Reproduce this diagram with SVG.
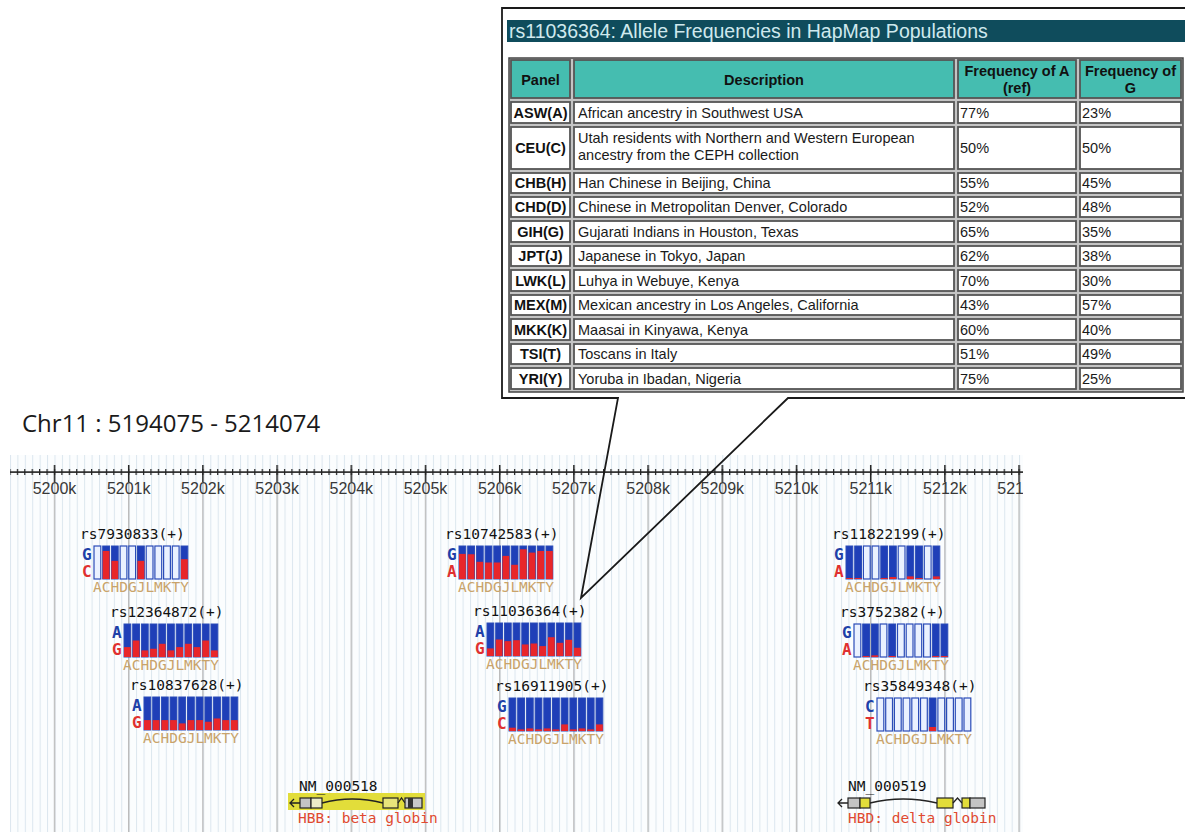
<svg xmlns="http://www.w3.org/2000/svg" width="1185" height="832" viewBox="0 0 1185 832">
<style>
.sans{font-family:"Liberation Sans",Arial,sans-serif}
.tick{font-family:"Liberation Sans",Arial,sans-serif;font-size:16px;fill:#383838;text-anchor:middle}
.cell{fill:#fff;stroke:#555;stroke-width:1.8}
.hcell{fill:#45bdb0;stroke:#555;stroke-width:1.8}
.td{font-family:"Liberation Sans",Arial,sans-serif;font-size:14.5px;fill:#1a1a1a}
.tp{font-family:"Liberation Sans",Arial,sans-serif;font-size:14.5px;font-weight:bold;fill:#111;text-anchor:middle}
.b{fill:#1f3fb8;stroke:#2a4cb8;stroke-width:1}
.o{fill:#eaf1ff;stroke:#2a4cb8;stroke-width:1.2}
.r{fill:#e8262a}
.lab{font-family:"DejaVu Sans Mono","Liberation Mono",monospace;font-size:14.5px;fill:#111}
.al1{font-family:"DejaVu Sans Mono","Liberation Mono",monospace;font-size:16px;font-weight:bold;fill:#2040a8}
.al2{font-family:"DejaVu Sans Mono","Liberation Mono",monospace;font-size:16px;font-weight:bold;fill:#e03030}
.pop{font-family:"DejaVu Sans Mono","Liberation Mono",monospace;font-size:14.5px;fill:#c9a36a}
.ex{stroke:#222;stroke-width:1.2}
.gl{fill:none;stroke:#222;stroke-width:1.3}
.gname{font-family:"DejaVu Sans Mono","Liberation Mono",monospace;font-size:14.5px;fill:#e04a30}
</style>
<defs>
<pattern id="minor" x="9.98" y="0" width="7.42" height="10" patternUnits="userSpaceOnUse"><rect width="1" height="10" fill="#dbe6ee"/></pattern>
<pattern id="mtick" x="9.38" y="0" width="7.42" height="10" patternUnits="userSpaceOnUse"><rect width="1.2" height="10" fill="#222"/></pattern>
<pattern id="major" x="53.8" y="0" width="74.2" height="10" patternUnits="userSpaceOnUse"><rect width="1.4" height="10" fill="#bcbcbc"/></pattern>
<pattern id="majtick" x="53.75" y="0" width="74.2" height="20" patternUnits="userSpaceOnUse"><rect width="1.5" height="20" fill="#222"/></pattern>
<clipPath id="trk"><rect x="0" y="440" width="1023" height="392"/></clipPath>
</defs>
<rect width="1185" height="832" fill="#fff"/>

<text x="22" y="432" style="font-family:'Open Sans','Noto Sans',sans-serif;font-size:24px;fill:#1a1a1a">Chr11 : 5194075 - 5214074</text>

<g id="track" clip-path="url(#trk)">
<rect x="10" y="455" width="1015" height="377" fill="#fbfdfe"/>
<rect x="10" y="455" width="1015" height="377" fill="url(#minor)"/>
<rect x="10" y="482" width="1015" height="350" fill="url(#major)"/>
<rect x="10" y="471.3" width="1013" height="1.6" fill="#222"/>
<rect x="10" y="469" width="1013" height="6" fill="url(#mtick)"/>
<rect x="10" y="465" width="1013" height="17" fill="url(#majtick)"/>
<text x="54.5" y="494" class="tick">5200k</text>
<text x="128.7" y="494" class="tick">5201k</text>
<text x="202.9" y="494" class="tick">5202k</text>
<text x="277.1" y="494" class="tick">5203k</text>
<text x="351.3" y="494" class="tick">5204k</text>
<text x="425.5" y="494" class="tick">5205k</text>
<text x="499.7" y="494" class="tick">5206k</text>
<text x="573.9" y="494" class="tick">5207k</text>
<text x="648.1" y="494" class="tick">5208k</text>
<text x="722.3" y="494" class="tick">5209k</text>
<text x="796.5" y="494" class="tick">5210k</text>
<text x="870.7" y="494" class="tick">5211k</text>
<text x="944.9" y="494" class="tick">5212k</text>
<text x="1019.1" y="494" class="tick">5213k</text>
</g>

<g id="rs7930833" transform="translate(80,539)">
<text class="lab" x="0" y="0">rs7930833(+)</text>
<text class="al1" x="2" y="21">G</text><text class="al2" x="2" y="38">C</text>
<rect class="o" x="14" y="7" width="6.8" height="33"/>
<rect class="b" x="22.7" y="7" width="6.8" height="33"/><rect class="r" x="22.7" y="11.95" width="6.8" height="28.05"/>
<rect class="b" x="31.4" y="7" width="6.8" height="33"/><rect class="r" x="31.4" y="21.85" width="6.8" height="18.15"/>
<rect class="o" x="40.1" y="7" width="6.8" height="33"/>
<rect class="o" x="48.8" y="7" width="6.8" height="33"/>
<rect class="b" x="57.5" y="7" width="6.8" height="33"/><rect class="r" x="57.5" y="21.85" width="6.8" height="18.15"/>
<rect class="o" x="66.2" y="7" width="6.8" height="33"/>
<rect class="o" x="74.9" y="7" width="6.8" height="33"/>
<rect class="o" x="83.6" y="7" width="6.8" height="33"/>
<rect class="o" x="92.3" y="7" width="6.8" height="33"/>
<rect class="b" x="101" y="7" width="6.8" height="33"/><rect class="r" x="101" y="20.2" width="6.8" height="19.8"/>
<text class="pop" x="13" y="53">ACHDGJLMKTY</text>
</g>

<g id="rs12364872" transform="translate(110,617)">
<text class="lab" x="0" y="0">rs12364872(+)</text>
<text class="al1" x="2" y="21">A</text><text class="al2" x="2" y="38">G</text>
<rect class="b" x="14" y="7" width="6.8" height="33"/><rect class="r" x="14" y="30.1" width="6.8" height="9.9"/>
<rect class="b" x="22.7" y="7" width="6.8" height="33"/><rect class="r" x="22.7" y="23.5" width="6.8" height="16.5"/>
<rect class="b" x="31.4" y="7" width="6.8" height="33"/><rect class="r" x="31.4" y="33.4" width="6.8" height="6.6"/>
<rect class="b" x="40.1" y="7" width="6.8" height="33"/><rect class="r" x="40.1" y="31.75" width="6.8" height="8.25"/>
<rect class="b" x="48.8" y="7" width="6.8" height="33"/><rect class="r" x="48.8" y="26.8" width="6.8" height="13.2"/>
<rect class="b" x="57.5" y="7" width="6.8" height="33"/><rect class="r" x="57.5" y="33.4" width="6.8" height="6.6"/>
<rect class="b" x="66.2" y="7" width="6.8" height="33"/><rect class="r" x="66.2" y="30.1" width="6.8" height="9.9"/>
<rect class="b" x="74.9" y="7" width="6.8" height="33"/><rect class="r" x="74.9" y="26.8" width="6.8" height="13.2"/>
<rect class="b" x="83.6" y="7" width="6.8" height="33"/><rect class="r" x="83.6" y="30.1" width="6.8" height="9.9"/>
<rect class="b" x="92.3" y="7" width="6.8" height="33"/><rect class="r" x="92.3" y="23.5" width="6.8" height="16.5"/>
<rect class="b" x="101" y="7" width="6.8" height="33"/><rect class="r" x="101" y="33.4" width="6.8" height="6.6"/>
<text class="pop" x="13" y="53">ACHDGJLMKTY</text>
</g>

<g id="rs10837628" transform="translate(130,690)">
<text class="lab" x="0" y="0">rs10837628(+)</text>
<text class="al1" x="2" y="21">A</text><text class="al2" x="2" y="38">G</text>
<rect class="b" x="14" y="7" width="6.8" height="33"/><rect class="r" x="14" y="30.1" width="6.8" height="9.9"/>
<rect class="b" x="22.7" y="7" width="6.8" height="33"/><rect class="r" x="22.7" y="30.1" width="6.8" height="9.9"/>
<rect class="b" x="31.4" y="7" width="6.8" height="33"/><rect class="r" x="31.4" y="30.1" width="6.8" height="9.9"/>
<rect class="b" x="40.1" y="7" width="6.8" height="33"/><rect class="r" x="40.1" y="30.1" width="6.8" height="9.9"/>
<rect class="b" x="48.8" y="7" width="6.8" height="33"/><rect class="r" x="48.8" y="33.4" width="6.8" height="6.6"/>
<rect class="b" x="57.5" y="7" width="6.8" height="33"/><rect class="r" x="57.5" y="30.1" width="6.8" height="9.9"/>
<rect class="b" x="66.2" y="7" width="6.8" height="33"/><rect class="r" x="66.2" y="30.1" width="6.8" height="9.9"/>
<rect class="b" x="74.9" y="7" width="6.8" height="33"/><rect class="r" x="74.9" y="31.75" width="6.8" height="8.25"/>
<rect class="b" x="83.6" y="7" width="6.8" height="33"/><rect class="r" x="83.6" y="28.45" width="6.8" height="11.55"/>
<rect class="b" x="92.3" y="7" width="6.8" height="33"/><rect class="r" x="92.3" y="30.1" width="6.8" height="9.9"/>
<rect class="b" x="101" y="7" width="6.8" height="33"/><rect class="r" x="101" y="30.1" width="6.8" height="9.9"/>
<text class="pop" x="13" y="53">ACHDGJLMKTY</text>
</g>

<g id="rs10742583" transform="translate(445,539)">
<text class="lab" x="0" y="0">rs10742583(+)</text>
<text class="al1" x="2" y="21">G</text><text class="al2" x="2" y="38">A</text>
<rect class="b" x="14" y="7" width="6.8" height="33"/><rect class="r" x="14" y="14.9" width="6.8" height="25.1"/>
<rect class="b" x="22.7" y="7" width="6.8" height="33"/><rect class="r" x="22.7" y="15.25" width="6.8" height="24.75"/>
<rect class="b" x="31.4" y="7" width="6.8" height="33"/><rect class="r" x="31.4" y="22.8" width="6.8" height="17.2"/>
<rect class="b" x="40.1" y="7" width="6.8" height="33"/><rect class="r" x="40.1" y="23.5" width="6.8" height="16.5"/>
<rect class="b" x="48.8" y="7" width="6.8" height="33"/><rect class="r" x="48.8" y="23.5" width="6.8" height="16.5"/>
<rect class="b" x="57.5" y="7" width="6.8" height="33"/><rect class="r" x="57.5" y="16.9" width="6.8" height="23.1"/>
<rect class="b" x="66.2" y="7" width="6.8" height="33"/><rect class="r" x="66.2" y="25.8" width="6.8" height="14.2"/>
<rect class="b" x="74.9" y="7" width="6.8" height="33"/><rect class="r" x="74.9" y="10.3" width="6.8" height="29.7"/>
<rect class="b" x="83.6" y="7" width="6.8" height="33"/><rect class="r" x="83.6" y="13.6" width="6.8" height="26.4"/>
<rect class="b" x="92.3" y="7" width="6.8" height="33"/><rect class="r" x="92.3" y="11.95" width="6.8" height="28.05"/>
<rect class="b" x="101" y="7" width="6.8" height="33"/><rect class="r" x="101" y="11.95" width="6.8" height="28.05"/>
<text class="pop" x="13" y="53">ACHDGJLMKTY</text>
</g>

<g id="rs11036364" transform="translate(473,616)">
<text class="lab" x="0" y="0">rs11036364(+)</text>
<text class="al1" x="2" y="21">A</text><text class="al2" x="2" y="38">G</text>
<rect class="b" x="14" y="7" width="6.8" height="33"/><rect class="r" x="14" y="32.4" width="6.8" height="7.6"/>
<rect class="b" x="22.7" y="7" width="6.8" height="33"/><rect class="r" x="22.7" y="23.5" width="6.8" height="16.5"/>
<rect class="b" x="31.4" y="7" width="6.8" height="33"/><rect class="r" x="31.4" y="25.15" width="6.8" height="14.85"/>
<rect class="b" x="40.1" y="7" width="6.8" height="33"/><rect class="r" x="40.1" y="24.2" width="6.8" height="15.8"/>
<rect class="b" x="48.8" y="7" width="6.8" height="33"/><rect class="r" x="48.8" y="28.45" width="6.8" height="11.55"/>
<rect class="b" x="57.5" y="7" width="6.8" height="33"/><rect class="r" x="57.5" y="27.5" width="6.8" height="12.5"/>
<rect class="b" x="66.2" y="7" width="6.8" height="33"/><rect class="r" x="66.2" y="30.1" width="6.8" height="9.9"/>
<rect class="b" x="74.9" y="7" width="6.8" height="33"/><rect class="r" x="74.9" y="21.2" width="6.8" height="18.8"/>
<rect class="b" x="83.6" y="7" width="6.8" height="33"/><rect class="r" x="83.6" y="26.8" width="6.8" height="13.2"/>
<rect class="b" x="92.3" y="7" width="6.8" height="33"/><rect class="r" x="92.3" y="23.8" width="6.8" height="16.2"/>
<rect class="b" x="101" y="7" width="6.8" height="33"/><rect class="r" x="101" y="31.75" width="6.8" height="8.25"/>
<text class="pop" x="13" y="53">ACHDGJLMKTY</text>
</g>

<g id="rs16911905" transform="translate(495,691)">
<text class="lab" x="0" y="0">rs16911905(+)</text>
<text class="al1" x="2" y="21">G</text><text class="al2" x="2" y="38">C</text>
<rect class="b" x="14" y="7" width="6.8" height="33"/><rect class="r" x="14" y="36.7" width="6.8" height="3.3"/>
<rect class="b" x="22.7" y="7" width="6.8" height="33"/><rect class="r" x="22.7" y="38.35" width="6.8" height="1.65"/>
<rect class="b" x="31.4" y="7" width="6.8" height="33"/><rect class="r" x="31.4" y="37.4" width="6.8" height="2.6"/>
<rect class="b" x="40.1" y="7" width="6.8" height="33"/><rect class="r" x="40.1" y="38.35" width="6.8" height="1.65"/>
<rect class="b" x="48.8" y="7" width="6.8" height="33"/><rect class="r" x="48.8" y="37.4" width="6.8" height="2.6"/>
<rect class="b" x="57.5" y="7" width="6.8" height="33"/><rect class="r" x="57.5" y="38.35" width="6.8" height="1.65"/>
<rect class="b" x="66.2" y="7" width="6.8" height="33"/><rect class="r" x="66.2" y="33.4" width="6.8" height="6.6"/>
<rect class="b" x="74.9" y="7" width="6.8" height="33"/><rect class="r" x="74.9" y="38.35" width="6.8" height="1.65"/>
<rect class="b" x="83.6" y="7" width="6.8" height="33"/><rect class="r" x="83.6" y="37.4" width="6.8" height="2.6"/>
<rect class="b" x="92.3" y="7" width="6.8" height="33"/><rect class="r" x="92.3" y="38.35" width="6.8" height="1.65"/>
<rect class="b" x="101" y="7" width="6.8" height="33"/><rect class="r" x="101" y="33.4" width="6.8" height="6.6"/>
<text class="pop" x="13" y="53">ACHDGJLMKTY</text>
</g>

<g id="rs11822199" transform="translate(832,539)">
<text class="lab" x="0" y="0">rs11822199(+)</text>
<text class="al1" x="2" y="21">G</text><text class="al2" x="2" y="38">A</text>
<rect class="b" x="14" y="7" width="6.8" height="33"/><rect class="r" x="14" y="39" width="6.8" height="1"/>
<rect class="b" x="22.7" y="7" width="6.8" height="33"/><rect class="r" x="22.7" y="39" width="6.8" height="1"/>
<rect class="o" x="31.4" y="7" width="6.8" height="33"/>
<rect class="o" x="40.1" y="7" width="6.8" height="33"/>
<rect class="b" x="48.8" y="7" width="6.8" height="33"/><rect class="r" x="48.8" y="39" width="6.8" height="1"/>
<rect class="b" x="57.5" y="7" width="6.8" height="33"/><rect class="r" x="57.5" y="38" width="6.8" height="2"/>
<rect class="o" x="66.2" y="7" width="6.8" height="33"/>
<rect class="b" x="74.9" y="7" width="6.8" height="33"/><rect class="r" x="74.9" y="37.4" width="6.8" height="2.6"/>
<rect class="b" x="83.6" y="7" width="6.8" height="33"/><rect class="r" x="83.6" y="39" width="6.8" height="1"/>
<rect class="o" x="92.3" y="7" width="6.8" height="33"/>
<rect class="b" x="101" y="7" width="6.8" height="33"/><rect class="r" x="101" y="37.4" width="6.8" height="2.6"/>
<text class="pop" x="13" y="53">ACHDGJLMKTY</text>
</g>

<g id="rs3752382" transform="translate(840,617)">
<text class="lab" x="0" y="0">rs3752382(+)</text>
<text class="al1" x="2" y="21">G</text><text class="al2" x="2" y="38">A</text>
<rect class="o" x="14" y="7" width="6.8" height="33"/>
<rect class="b" x="22.7" y="7" width="6.8" height="33"/><rect class="r" x="22.7" y="39" width="6.8" height="1"/>
<rect class="b" x="31.4" y="7" width="6.8" height="33"/><rect class="r" x="31.4" y="38.35" width="6.8" height="1.65"/>
<rect class="o" x="40.1" y="7" width="6.8" height="33"/>
<rect class="b" x="48.8" y="7" width="6.8" height="33"/><rect class="r" x="48.8" y="39" width="6.8" height="1"/>
<rect class="o" x="57.5" y="7" width="6.8" height="33"/>
<rect class="o" x="66.2" y="7" width="6.8" height="33"/>
<rect class="o" x="74.9" y="7" width="6.8" height="33"/>
<rect class="o" x="83.6" y="7" width="6.8" height="33"/>
<rect class="b" x="92.3" y="7" width="6.8" height="33"/><rect class="r" x="92.3" y="39" width="6.8" height="1"/>
<rect class="b" x="101" y="7" width="6.8" height="33"/><rect class="r" x="101" y="39" width="6.8" height="1"/>
<text class="pop" x="13" y="53">ACHDGJLMKTY</text>
</g>

<g id="rs35849348" transform="translate(863,691)">
<text class="lab" x="0" y="0">rs35849348(+)</text>
<text class="al1" x="2" y="21">C</text><text class="al2" x="2" y="38">T</text>
<rect class="o" x="14" y="7" width="6.8" height="33"/>
<rect class="o" x="22.7" y="7" width="6.8" height="33"/>
<rect class="o" x="31.4" y="7" width="6.8" height="33"/>
<rect class="o" x="40.1" y="7" width="6.8" height="33"/>
<rect class="o" x="48.8" y="7" width="6.8" height="33"/>
<rect class="o" x="57.5" y="7" width="6.8" height="33"/>
<rect class="b" x="66.2" y="7" width="6.8" height="33"/><rect class="r" x="66.2" y="36" width="6.8" height="4"/>
<rect class="o" x="74.9" y="7" width="6.8" height="33"/>
<rect class="o" x="83.6" y="7" width="6.8" height="33"/>
<rect class="o" x="92.3" y="7" width="6.8" height="33"/>
<rect class="o" x="101" y="7" width="6.8" height="33"/>
<text class="pop" x="13" y="53">ACHDGJLMKTY</text>
</g>

<g id="NM_000518">
<rect x="288" y="793" width="137" height="17" fill="#e2dd3a"/>
<text class="lab" x="299" y="791">NM_000518</text>
<path class="gl" d="M290,803 H300 M294,799 L290,803 L294,807"/>
<rect class="ex" x="300" y="798" width="11" height="10" fill="#c4c4c4"/>
<rect class="ex" x="311" y="798" width="11" height="10" fill="#ecebc8"/>
<path class="gl" d="M322,803 Q352,795 383,803"/>
<rect class="ex" x="383" y="798" width="15" height="10" fill="#e8e47a"/>
<path class="gl" d="M398,803 L401.5,798 L405,803"/>
<rect class="ex" x="405" y="798" width="17" height="10" fill="#c8c8c8"/>
<rect x="408" y="798" width="5" height="10" fill="#333"/>
<text class="gname" x="298" y="823">HBB: beta globin</text>
</g>

<g id="NM_000519">
<text class="lab" x="848" y="791">NM_000519</text>
<path class="gl" d="M838,803 H848 M842,799 L838,803 L842,807"/>
<rect class="ex" x="848" y="798" width="12" height="10" fill="#c4c4c4"/>
<rect class="ex" x="860" y="798" width="10" height="10" fill="#e2dd3a"/>
<path class="gl" d="M870,803 Q903,795 937,803"/>
<rect class="ex" x="937" y="798" width="16" height="10" fill="#e2dd3a"/>
<path class="gl" d="M953,803 L957.5,798 L962,803"/>
<rect class="ex" x="962" y="798" width="8" height="10" fill="#e2dd3a"/>
<rect class="ex" x="970" y="798" width="15" height="10" fill="#c4c4c4"/>
<text class="gname" x="848" y="823">HBD: delta globin</text>
</g>

<g id="popup">
<rect x="502" y="8" width="690" height="390" fill="#fff"/>
<rect x="507" y="20" width="685" height="22" fill="#0f4c5c"/>
<text x="509" y="38" class="sans" style="font-size:19.5px;fill:#cfe9ee">rs11036364: Allele Frequencies in HapMap Populations</text>
<rect x="509" y="58" width="674" height="334" fill="#c4c4c4" stroke="#444" stroke-width="1.5"/>
<g id="hdr">
<rect class="hcell" x="511" y="60" width="59" height="38"/>
<rect class="hcell" x="574" y="60" width="380" height="38"/>
<rect class="hcell" x="958" y="60" width="118" height="38"/>
<rect class="hcell" x="1080" y="60" width="101" height="38"/>
<text class="tp" x="540.5" y="85">Panel</text>
<text class="tp" x="764" y="85">Description</text>
<text class="tp" x="1017" y="76">Frequency of A</text>
<text class="tp" x="1017" y="93">(ref)</text>
<text class="tp" x="1130.5" y="76">Frequency of</text>
<text class="tp" x="1130.5" y="93">G</text>
</g>
<g id="rows">
<rect class="cell" x="511" y="102" width="59" height="21"/><rect class="cell" x="574" y="102" width="380" height="21"/><rect class="cell" x="958" y="102" width="118" height="21"/><rect class="cell" x="1080" y="102" width="101" height="21"/>
<rect class="cell" x="511" y="127" width="59" height="42"/><rect class="cell" x="574" y="127" width="380" height="42"/><rect class="cell" x="958" y="127" width="118" height="42"/><rect class="cell" x="1080" y="127" width="101" height="42"/>
<rect class="cell" x="511" y="173" width="59" height="20"/><rect class="cell" x="574" y="173" width="380" height="20"/><rect class="cell" x="958" y="173" width="118" height="20"/><rect class="cell" x="1080" y="173" width="101" height="20"/>
<rect class="cell" x="511" y="197" width="59" height="20"/><rect class="cell" x="574" y="197" width="380" height="20"/><rect class="cell" x="958" y="197" width="118" height="20"/><rect class="cell" x="1080" y="197" width="101" height="20"/>
<rect class="cell" x="511" y="221" width="59" height="21"/><rect class="cell" x="574" y="221" width="380" height="21"/><rect class="cell" x="958" y="221" width="118" height="21"/><rect class="cell" x="1080" y="221" width="101" height="21"/>
<rect class="cell" x="511" y="246" width="59" height="20"/><rect class="cell" x="574" y="246" width="380" height="20"/><rect class="cell" x="958" y="246" width="118" height="20"/><rect class="cell" x="1080" y="246" width="101" height="20"/>
<rect class="cell" x="511" y="270" width="59" height="21"/><rect class="cell" x="574" y="270" width="380" height="21"/><rect class="cell" x="958" y="270" width="118" height="21"/><rect class="cell" x="1080" y="270" width="101" height="21"/>
<rect class="cell" x="511" y="295" width="59" height="20"/><rect class="cell" x="574" y="295" width="380" height="20"/><rect class="cell" x="958" y="295" width="118" height="20"/><rect class="cell" x="1080" y="295" width="101" height="20"/>
<rect class="cell" x="511" y="319" width="59" height="21"/><rect class="cell" x="574" y="319" width="380" height="21"/><rect class="cell" x="958" y="319" width="118" height="21"/><rect class="cell" x="1080" y="319" width="101" height="21"/>
<rect class="cell" x="511" y="344" width="59" height="20"/><rect class="cell" x="574" y="344" width="380" height="20"/><rect class="cell" x="958" y="344" width="118" height="20"/><rect class="cell" x="1080" y="344" width="101" height="20"/>
<rect class="cell" x="511" y="368" width="59" height="21"/><rect class="cell" x="574" y="368" width="380" height="21"/><rect class="cell" x="958" y="368" width="118" height="21"/><rect class="cell" x="1080" y="368" width="101" height="21"/>

<text class="tp" x="540.5" y="118">ASW(A)</text><text class="td" x="578" y="118">African ancestry in Southwest USA</text><text class="td" x="960" y="118">77%</text><text class="td" x="1082" y="118">23%</text>
<text class="tp" x="540.5" y="153">CEU(C)</text><text class="td" x="578" y="143">Utah residents with Northern and Western European</text><text class="td" x="578" y="160">ancestry from the CEPH collection</text><text class="td" x="960" y="153">50%</text><text class="td" x="1082" y="153">50%</text>
<text class="tp" x="540.5" y="188">CHB(H)</text><text class="td" x="578" y="188">Han Chinese in Beijing, China</text><text class="td" x="960" y="188">55%</text><text class="td" x="1082" y="188">45%</text>
<text class="tp" x="540.5" y="212">CHD(D)</text><text class="td" x="578" y="212">Chinese in Metropolitan Denver, Colorado</text><text class="td" x="960" y="212">52%</text><text class="td" x="1082" y="212">48%</text>
<text class="tp" x="540.5" y="236.5">GIH(G)</text><text class="td" x="578" y="236.5">Gujarati Indians in Houston, Texas</text><text class="td" x="960" y="236.5">65%</text><text class="td" x="1082" y="236.5">35%</text>
<text class="tp" x="540.5" y="261">JPT(J)</text><text class="td" x="578" y="261">Japanese in Tokyo, Japan</text><text class="td" x="960" y="261">62%</text><text class="td" x="1082" y="261">38%</text>
<text class="tp" x="540.5" y="285.5">LWK(L)</text><text class="td" x="578" y="285.5">Luhya in Webuye, Kenya</text><text class="td" x="960" y="285.5">70%</text><text class="td" x="1082" y="285.5">30%</text>
<text class="tp" x="540.5" y="310">MEX(M)</text><text class="td" x="578" y="310">Mexican ancestry in Los Angeles, California</text><text class="td" x="960" y="310">43%</text><text class="td" x="1082" y="310">57%</text>
<text class="tp" x="540.5" y="334.5">MKK(K)</text><text class="td" x="578" y="334.5">Maasai in Kinyawa, Kenya</text><text class="td" x="960" y="334.5">60%</text><text class="td" x="1082" y="334.5">40%</text>
<text class="tp" x="540.5" y="359">TSI(T)</text><text class="td" x="578" y="359">Toscans in Italy</text><text class="td" x="960" y="359">51%</text><text class="td" x="1082" y="359">49%</text>
<text class="tp" x="540.5" y="383.5">YRI(Y)</text><text class="td" x="578" y="383.5">Yoruba in Ibadan, Nigeria</text><text class="td" x="960" y="383.5">75%</text><text class="td" x="1082" y="383.5">25%</text>
</g>
</g>

<g id="connectors">
<path d="M1190,8 H502 V398 H618 L581,598 L788,398 H1190" fill="none" stroke="#1a1a1a" stroke-width="1.8"/>
</g>
</svg>
